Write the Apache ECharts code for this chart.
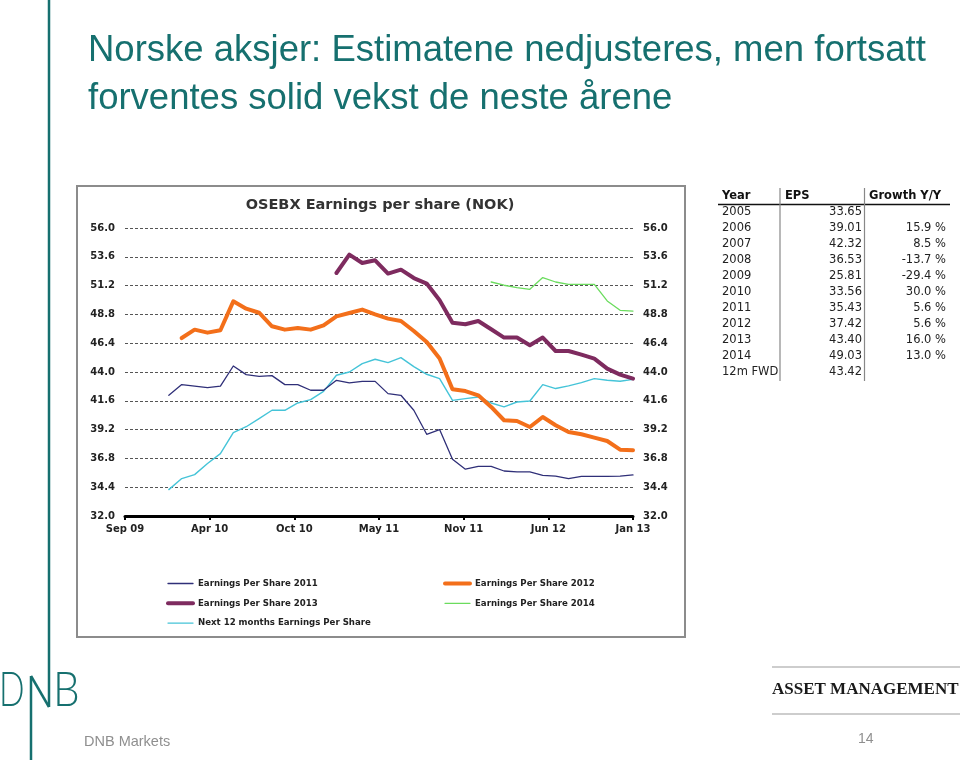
<!DOCTYPE html>
<html><head><meta charset="utf-8">
<script src="https://cdn.jsdelivr.net/npm/echarts@6/dist/echarts.min.js"></script>
<style>html,body{margin:0;padding:0;background:#fff}#c{width:960px;height:760px}</style>
</head><body><div id="c"></div>
<script>
// ---------- data ----------
const months = ['Jan 10','Feb 10','Mar 10','Apr 10','May 10','Jun 10','Jul 10','Aug 10','Sep 10','Oct 10','Nov 10','Dec 10',
  'Jan 11','Feb 11','Mar 11','Apr 11','May 11','Jun 11','Jul 11','Aug 11','Sep 11','Oct 11','Nov 11','Dec 11',
  'Jan 12','Feb 12','Mar 12','Apr 12','May 12','Jun 12','Jul 12','Aug 12','Sep 12','Oct 12','Nov 12','Dec 12','Jan 13'];
const xTickLabels = ['Sep 09','Apr 10','Oct 10','May 11','Nov 11','Jun 12','Jan 13'];
const yTickLabels = ['32.0','34.4','36.8','39.2','41.6','44.0','46.4','48.8','51.2','53.6','56.0'];

const eps2011 = [42.06,42.95,42.83,42.70,42.83,44.50,43.78,43.64,43.70,42.95,42.95,42.48,42.48,43.31,43.09,43.22,43.22,42.20,42.06,40.81,38.81,39.20,36.73,35.90,36.14,36.14,35.75,35.67,35.67,35.39,35.33,35.12,35.31,35.31,35.31,35.33,35.42];
const eps2012 = [null,46.83,47.53,47.28,47.48,49.89,49.28,48.94,47.81,47.53,47.67,47.53,47.89,48.64,48.92,49.20,48.81,48.45,48.25,47.42,46.50,45.12,42.56,42.41,42.06,41.09,39.98,39.92,39.42,40.25,39.56,39.00,38.81,38.53,38.25,37.53,37.48];
const eps2013 = [null,null,null,null,null,null,null,null,null,null,null,null,null,52.25,53.78,53.08,53.31,52.20,52.53,51.83,51.37,49.98,48.10,47.98,48.25,47.56,46.87,46.87,46.23,46.87,45.75,45.75,45.45,45.12,44.28,43.78,43.45];
const eps2014 = [null,null,null,null,null,null,null,null,null,null,null,null,null,null,null,null,null,null,null,null,null,null,null,null,null,51.50,51.23,51.03,50.89,51.87,51.50,51.31,51.31,51.31,49.92,49.14,49.08];
const next12m = [34.20,35.12,35.45,36.37,37.20,38.95,39.44,40.12,40.81,40.81,41.42,41.70,42.39,43.73,44.00,44.70,45.06,44.78,45.20,44.45,43.81,43.45,41.64,41.78,41.92,41.42,41.09,41.50,41.58,42.95,42.62,42.84,43.12,43.45,43.31,43.23,43.39];

const seriesNames = ['Earnings Per Share 2011','Earnings Per Share 2012','Earnings Per Share 2013','Earnings Per Share 2014','Next 12 months Earnings Per Share'];

const tableYears = ['2005','2006','2007','2008','2009','2010','2011','2012','2013','2014','12m FWD'];
const tableEps = ['33.65','39.01','42.32','36.53','25.81','33.56','35.43','37.42','43.40','49.03','43.42'];
const tableGrowth = ['','15.9 %','8.5 %','-13.7 %','-29.4 %','30.0 %','5.6 %','5.6 %','16.0 %','13.0 %',''];

const titleLines = ['Norske aksjer: Estimatene nedjusteres, men fortsatt','forventes solid vekst de neste årene'];
const chartTitle = 'OSEBX Earnings per share (NOK)';

// ---------- build ----------
const teal = '#16706f';
const F = '"DejaVu Sans", Verdana, sans-serif';
function pairs(arr){ const out=[]; arr.forEach((v,i)=>{ if(v!==null) out.push([i,v]); }); return out; }

const graphics = [];
graphics.push({type:'rect', z:-1, shape:{x:77,y:186,width:608,height:451}, style:{fill:'#fff', stroke:'#8c8c8c', lineWidth:2}});
titleLines.forEach((t,k)=>graphics.push({type:'text', style:{x:88, y:51+k*48, text:t, fill:teal, font:'36.5px "Liberation Sans", Arial, sans-serif', verticalAlign:'middle'}}));
graphics.push({type:'text', style:{x:380, y:205, text:chartTitle, fill:'#333', font:'bold 14.5px '+F, align:'center', verticalAlign:'middle'}});
// logo lines
graphics.push({type:'line', shape:{x1:49,y1:0,x2:49,y2:707}, style:{stroke:teal, lineWidth:2.5}});
graphics.push({type:'line', shape:{x1:31,y1:676,x2:49,y2:707}, style:{stroke:teal, lineWidth:2.5}});
graphics.push({type:'line', shape:{x1:31,y1:676,x2:31,y2:760}, style:{stroke:teal, lineWidth:2.5}});
graphics.push({type:'text', x:-1, y:691, scaleX:0.7, style:{x:0, y:0, text:'D', fill:teal, font:'300 48px Lato, "Liberation Sans", sans-serif', verticalAlign:'middle'}});
graphics.push({type:'text', x:53, y:691, scaleX:0.88, style:{x:0, y:0, text:'B', fill:teal, font:'300 48px Lato, "Liberation Sans", sans-serif', verticalAlign:'middle'}});
graphics.push({type:'text', style:{x:84, y:742, text:'DNB Markets', fill:'#8f8f8f', font:'14.5px "Liberation Sans", Arial, sans-serif', verticalAlign:'middle'}});
graphics.push({type:'text', style:{x:858, y:739, text:'14', fill:'#8f8f8f', font:'14px "Liberation Sans", Arial, sans-serif', verticalAlign:'middle'}});
graphics.push({type:'line', shape:{x1:772,y1:667,x2:960,y2:667}, style:{stroke:'#bdbdbd', lineWidth:1.5}});
graphics.push({type:'line', shape:{x1:772,y1:714,x2:960,y2:714}, style:{stroke:'#bdbdbd', lineWidth:1.5}});
graphics.push({type:'text', style:{x:772, y:690, text:'ASSET MANAGEMENT', fill:'#1a1a1a', font:'bold 17px "Liberation Serif", serif', verticalAlign:'middle'}});
// table
const tf = '11.5px '+F;
graphics.push({type:'text', style:{x:722, y:196, text:'Year', fill:'#111', font:'bold 11.5px '+F, verticalAlign:'middle'}});
graphics.push({type:'text', style:{x:785, y:196, text:'EPS', fill:'#111', font:'bold 11.5px '+F, verticalAlign:'middle'}});
graphics.push({type:'text', style:{x:869, y:196, text:'Growth Y/Y', fill:'#111', font:'bold 11.5px '+F, verticalAlign:'middle'}});
graphics.push({type:'line', shape:{x1:718,y1:204.5,x2:950,y2:204.5}, style:{stroke:'#111', lineWidth:1.5}});
graphics.push({type:'line', shape:{x1:780,y1:188,x2:780,y2:381}, style:{stroke:'#888', lineWidth:1.2}});
graphics.push({type:'line', shape:{x1:864.5,y1:188,x2:864.5,y2:381}, style:{stroke:'#888', lineWidth:1.2}});
tableYears.forEach((y,k)=>{
  const yy = 212 + k*16;
  graphics.push({type:'text', style:{x:722, y:yy, text:y, fill:'#222', font:tf, verticalAlign:'middle'}});
  graphics.push({type:'text', style:{x:862, y:yy, text:tableEps[k], fill:'#222', font:tf, align:'right', verticalAlign:'middle'}});
  if (tableGrowth[k]) graphics.push({type:'text', style:{x:946, y:yy, text:tableGrowth[k], fill:'#222', font:tf, align:'right', verticalAlign:'middle'}});
});

const labelStyle = {fontFamily:F, fontWeight:'bold', fontSize:10, color:'#222'};
const colors = ['#2f2f78','#f36f1a','#7e2b5f','#6bdc5e','#45c4d8'];
const widths = [1.3,4,4,1.3,1.4];
const datas = [eps2011, eps2012, eps2013, eps2014, next12m];
const drawOrder = [4,0,3,1,2];

function legendItem(i){ return {name:seriesNames[i], lineStyle:{width:widths[i], color:colors[i]}}; }
const legendBase = {orient:'vertical', padding:0, itemWidth:25, itemHeight:10, itemGap:10.8, selectedMode:false,
  itemStyle:{color:'rgba(0,0,0,0)', borderWidth:0, opacity:0},
  textStyle:{fontFamily:F, fontSize:8.6, fontWeight:'bold', color:'#222'}};

const option = {
  animation:false,
  backgroundColor:'#fff',
  graphic: graphics,
  grid:{left:125, top:228, width:508, height:288},
  xAxis:[
    {type:'value', min:-3.4, max:months.length-1, show:false},
    {type:'value', min:0, max:6, interval:1, position:'bottom',
     axisLine:{show:true, onZero:false, lineStyle:{color:'#000', width:3}},
     axisTick:{show:true, length:4, lineStyle:{color:'#000', width:2}},
     axisLabel:Object.assign({margin:8, formatter:v=>xTickLabels[v]}, labelStyle),
     splitLine:{show:false}}
  ],
  yAxis:[
    {type:'value', min:32, max:56, show:false},
    {type:'value', min:0, max:10, interval:1, position:'left',
     axisLine:{show:false, onZero:false}, axisTick:{show:false},
     axisLabel:Object.assign({margin:10, formatter:v=>yTickLabels[v]}, labelStyle),
     splitLine:{show:true, lineStyle:{color:'#555', width:1, type:[3,2]}}},
    {type:'value', min:0, max:10, interval:1, position:'right',
     axisLine:{show:false, onZero:false}, axisTick:{show:false},
     axisLabel:Object.assign({margin:10, formatter:v=>yTickLabels[v]}, labelStyle),
     splitLine:{show:false}}
  ],
  legend:[
    Object.assign({left:166, top:579, data:[legendItem(0), legendItem(2), legendItem(4)]}, legendBase),
    Object.assign({left:443, top:579, data:[legendItem(1), legendItem(3)]}, legendBase)
  ],
  series: drawOrder.map(i=>({
    name:seriesNames[i], type:'line', xAxisIndex:0, yAxisIndex:0, symbol:'none',
    data:pairs(datas[i]), color:colors[i],
    lineStyle:{color:colors[i], width:widths[i], cap:'round', join:'round'}
  }))
};
const chart = echarts.init(document.getElementById('c'), null, {renderer:'canvas'});
chart.setOption(option);
</script></body></html>
